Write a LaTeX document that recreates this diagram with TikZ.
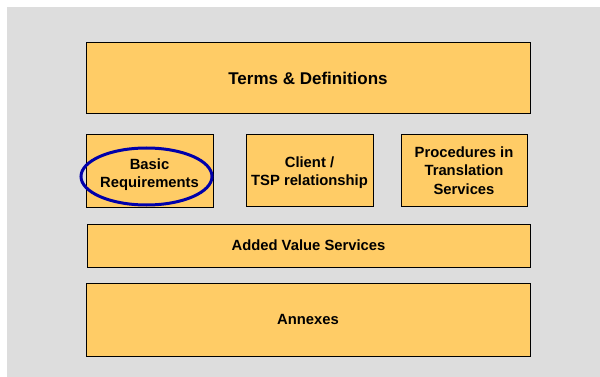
\documentclass[tikz,border=0pt]{standalone}
\usepackage{fontspec}
\setmainfont{Liberation Sans}
\usetikzlibrary{shapes.geometric}
\definecolor{boxfill}{RGB}{255,204,102}
\definecolor{bggray}{RGB}{221,221,221}
\definecolor{ringblue}{RGB}{0,0,170}
\tikzset{
  box/.style={draw=black, line width=0.9pt, fill=boxfill, anchor=north west,
    inner sep=0pt, outer sep=0pt},
  lbl/.style={inner sep=0pt, align=center,
    font=\bfseries\fontsize{14.8}{18.5}\selectfont},
  ring/.style={draw=ringblue, line width=3pt, ellipse, inner sep=0pt}
}
\begin{document}
\begin{tikzpicture}[x=1pt,y=-1pt]
\useasboundingbox (0,0) rectangle (600,377);
\fill[white] (0,0) rectangle (600,377);
\fill[bggray] (7,7) rectangle (600,377);
\node[box, minimum width=444pt, minimum height=71pt] (terms) at (86,42) {};
\node[lbl, font=\bfseries\fontsize{17}{20}\selectfont] (termst) at ([yshift=-0.5pt]terms.center) {Terms \& Definitions};
\node[box, minimum width=127pt, minimum height=73pt] (basic) at (86,134) {};
\node[lbl] (basict) at ([yshift=-4pt]basic.center) {Basic\\Requirements};
\node[box, minimum width=127pt, minimum height=72pt] (client) at (246,134) {};
\node[lbl] (clientt) at ([yshift=-2.5pt]client.center) {Client /\\TSP relationship};
\node[box, minimum width=126pt, minimum height=72pt] (proc) at (401,134) {};
\node[lbl] (proct) at ([yshift=-0.5pt]proc.center) {Procedures in\\Translation\\Services};
\node[box, minimum width=443pt, minimum height=43pt] (added) at (87,224) {};
\node[lbl] (addedt) at (added.center) {Added Value Services};
\node[box, minimum width=444pt, minimum height=73pt] (annex) at (86,283) {};
\node[lbl] (annext) at (annex.center) {Annexes};
\node[ring, minimum width=131pt, minimum height=57pt] (hl) at (146.5,176.5) {};
\end{tikzpicture}
\end{document}
